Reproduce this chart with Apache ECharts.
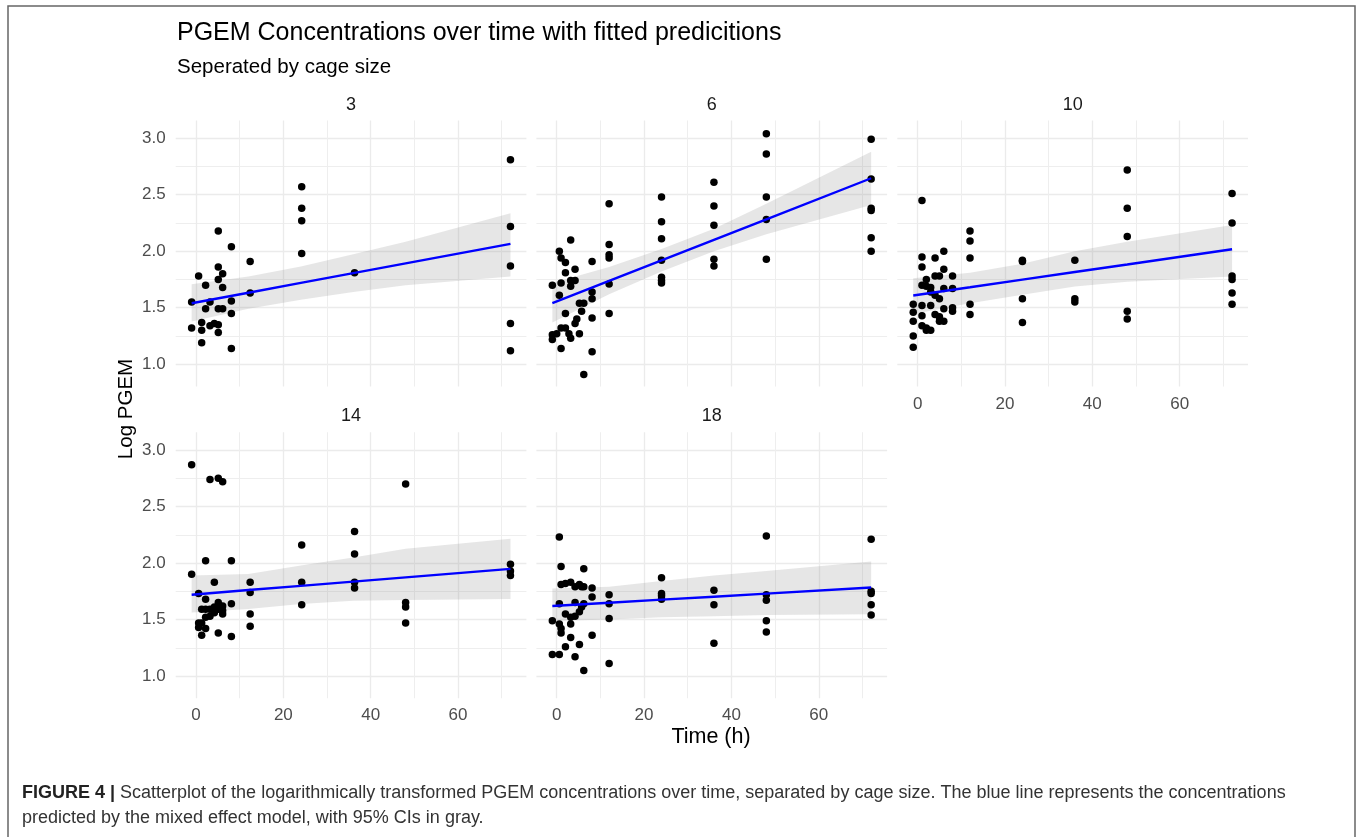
<!DOCTYPE html>
<html><head><meta charset="utf-8">
<script src="https://cdn.jsdelivr.net/npm/echarts@6/dist/echarts.min.js"></script>
<style>html,body{margin:0;padding:0;background:#fff}#c{width:1357px;height:837px}</style>
</head><body><div id="c"></div>
<script>
// ---------- data ----------
const panelNames = ['3', '6', '10', '14', '18'];
const xTickLabels = [0, 20, 40, 60];
const yTickLabels = [1.0, 1.5, 2.0, 2.5, 3.0];

const t3 = [-1, -1, 0.6, 1.3, 1.3, 1.3, 2.2, 2.2, 3.2, 3.2, 4.2, 5.1, 5.1, 5.1, 5.1, 5.1, 5.1, 6.1, 6.1, 6.1, 8.1, 8.1, 8.1, 8.1, 12.4, 12.4, 24.2, 24.2, 24.2, 24.2, 36.3, 72, 72, 72, 72, 72];
const v3 = [1.55, 1.32, 1.78, 1.37, 1.30, 1.19, 1.70, 1.49, 1.55, 1.34, 1.36, 2.18, 1.86, 1.75, 1.49, 1.35, 1.28, 1.80, 1.68, 1.49, 2.04, 1.56, 1.45, 1.14, 1.91, 1.63, 2.57, 2.38, 2.27, 1.98, 1.81, 2.81, 2.22, 1.87, 1.36, 1.12];

const t6 = [-1, -1, -1, 0.6, 1, 2, 1, 0.6, 2, 3.2, 4.2, 3.2, 4.2, 3.2, 2, 5.2, 6.2, 5.7, 4.6, 4.2, 5.2, 1, 2, 0, 2.8, 3.2, 1, 6.2, 8.1, 8.1, 8.1, 8.1, 8.1, 12, 12, 12, 12, 12, 12, 24, 24, 24, 24, 24, 24, 24, 36, 36, 36, 36, 36, 48, 48, 48, 48, 48, 72, 72, 72, 72, 72, 72];
const v6 = [1.70, 1.26, 1.22, 2.00, 1.94, 1.90, 1.72, 1.61, 1.81, 2.10, 1.84, 1.74, 1.74, 1.69, 1.45, 1.54, 1.54, 1.47, 1.40, 1.36, 1.27, 1.32, 1.32, 1.27, 1.27, 1.23, 1.14, 0.91, 1.91, 1.64, 1.58, 1.41, 1.11, 2.42, 2.06, 1.97, 1.94, 1.71, 1.45, 2.48, 2.26, 2.11, 1.92, 1.77, 1.74, 1.72, 2.61, 2.40, 2.23, 1.93, 1.87, 3.04, 2.86, 2.48, 2.28, 1.93, 2.99, 2.64, 2.38, 2.36, 2.12, 2.00];

const t10 = [1, 48, 48, 48, 48, 48, 72, 72, 72, 72, 72, 72, 36, 36, 36, 24, 24, 24, 24, 12, 12, 12, 12, 12, 8, 8, 8, 8, 6, 6, 6, 6, 6, 5, 5, 5, 5, 4, 4, 4, 4, 3, 3, 3, 3, 2, 2, 2, 2, 1, 1, 1, 1, 1, 1, -1, -1, -1, -1, -1];
const v10 = [2.45, 2.72, 2.38, 2.13, 1.47, 1.40, 2.51, 2.25, 1.78, 1.75, 1.63, 1.53, 1.92, 1.58, 1.55, 1.92, 1.91, 1.58, 1.37, 2.18, 2.09, 1.94, 1.53, 1.44, 1.78, 1.67, 1.50, 1.47, 2.00, 1.84, 1.67, 1.49, 1.38, 1.78, 1.58, 1.42, 1.38, 1.94, 1.78, 1.61, 1.44, 1.68, 1.64, 1.52, 1.30, 1.75, 1.69, 1.32, 1.30, 1.95, 1.86, 1.70, 1.52, 1.43, 1.34, 1.53, 1.46, 1.38, 1.25, 1.15];

const t14 = [-1, -1, 3.2, 5.1, 6.1, 2.2, 8.1, 4.2, 0.6, 2.2, 1.3, 2.2, 3.2, 4.2, 5.1, 6.1, 5.1, 6.1, 4.2, 3.2, 6.1, 2.2, 0.6, 1.3, 0.6, 2.2, 1.3, 5.1, 8.1, 8.1, 12.4, 12.4, 12.4, 12.4, 24.2, 24.2, 24.2, 36.3, 36.3, 36.3, 36.3, 48, 48, 48, 48, 72, 72, 72];
const v14 = [2.87, 1.90, 2.74, 2.75, 2.72, 2.02, 2.02, 1.83, 1.73, 1.68, 1.59, 1.59, 1.59, 1.61, 1.65, 1.62, 1.59, 1.58, 1.56, 1.53, 1.55, 1.52, 1.47, 1.47, 1.43, 1.42, 1.36, 1.38, 1.35, 1.64, 1.83, 1.74, 1.55, 1.44, 2.16, 1.83, 1.63, 2.28, 2.08, 1.83, 1.78, 2.70, 1.65, 1.61, 1.47, 1.99, 1.93, 1.89];

const t18 = [0.6, 48, 72, 1, 6.2, 24, 24, 24, 24, 1, 2, 3.2, 4.2, 5.2, 5.7, 6.2, 8.1, 8.1, 12, 12, 12, 12, 36, 36, 36, 48, 48, 48, 48, 72, 72, 72, 72, 0.6, 4.2, 6.2, 5.7, 5.2, 4.2, 2, 3.2, 3.2, -1, -1, 0.6, 0.6, 1, 1, 8.1, 3.2, 5.2, 2, 4.2, 6.2];
const v18 = [2.23, 2.24, 2.21, 1.97, 1.95, 1.87, 1.73, 1.71, 1.68, 1.81, 1.82, 1.83, 1.79, 1.81, 1.79, 1.79, 1.78, 1.70, 1.72, 1.64, 1.51, 1.11, 1.76, 1.63, 1.29, 1.72, 1.67, 1.49, 1.39, 1.75, 1.73, 1.63, 1.54, 1.64, 1.65, 1.64, 1.61, 1.57, 1.53, 1.55, 1.52, 1.46, 1.49, 1.19, 1.19, 1.46, 1.42, 1.38, 1.36, 1.34, 1.28, 1.26, 1.17, 1.05];

// fitted predictions and 95% CI, read at these times
const fitT = [-1, 12, 24, 36, 48, 72];
const fit3 = [1.54, 1.633, 1.72, 1.806, 1.892, 2.065];
const lo3  = [1.378, 1.49, 1.57, 1.64, 1.70, 1.776];
const hi3  = [1.708, 1.776, 1.864, 1.973, 2.085, 2.336];
const fit6 = [1.54, 1.737, 1.919, 2.101, 2.283, 2.646];
const lo6  = [1.37, 1.62, 1.82, 2.00, 2.15, 2.41];
const hi6  = [1.72, 1.86, 2.02, 2.20, 2.42, 2.88];
const fit10 = [1.608, 1.681, 1.749, 1.816, 1.883, 2.018];
const lo10  = [1.445, 1.54, 1.614, 1.687, 1.73, 1.776];
const hi10  = [1.76, 1.81, 1.89, 2.00, 2.085, 2.233];
const fit14 = [1.72, 1.761, 1.798, 1.836, 1.873, 1.948];
const lo14  = [1.563, 1.593, 1.637, 1.667, 1.673, 1.681];
const hi14  = [1.889, 1.904, 1.978, 2.05, 2.126, 2.215];
const fit18 = [1.62, 1.649, 1.676, 1.702, 1.729, 1.783];
const lo18  = [1.487, 1.50, 1.52, 1.53, 1.54, 1.547];
const hi18  = [1.774, 1.79, 1.84, 1.89, 1.93, 2.013];

// ---------- build ----------
const pts = [[t3, v3], [t6, v6], [t10, v10], [t14, v14], [t18, v18]];
const fits = [[fit3, lo3, hi3], [fit6, lo6, hi6], [fit10, lo10, hi10], [fit14, lo14, hi14], [fit18, lo18, hi18]];

const FONT = '"Liberation Sans", Arial, sans-serif';
const colLeft = [175.7, 536.4, 897.3];
const rowTop = [120.5, 432.3];
const PW = 350.7, PH = 266;
const pos = [[0, 0], [1, 0], [2, 0], [0, 1], [1, 1]];

const grids = [], xAxes = [], yAxes = [], series = [], graphics = [];
const gridLine = {color: '#EBEBEB', width: 1.3};
const minorLine = {color: '#EEEEEE', width: 1.1};

pos.forEach(([c, r], i) => {
  grids.push({left: colLeft[c], top: rowTop[r], width: PW, height: PH, containLabel: false});
  xAxes.push({
    type: 'value', gridIndex: i, min: -4.65, max: 75.65,
    splitNumber: 4, minInterval: 20, maxInterval: 20,
    axisLine: {show: false}, axisTick: {show: false},
    axisLabel: {show: (i >= 2), color: '#4D4D4D', fontSize: 17, fontFamily: FONT, margin: 9,
      showMinLabel: false, showMaxLabel: false,
      formatter: v => (xTickLabels.indexOf(Math.round(v * 1000) / 1000) >= 0 ? String(v) : '')},
    splitLine: {show: true, showMinLine: false, showMaxLine: false, lineStyle: gridLine},
    minorTick: {show: false, splitNumber: 2},
    minorSplitLine: {show: true, lineStyle: minorLine}
  });
  yAxes.push({
    type: 'value', gridIndex: i, min: 0.803, max: 3.157,
    splitNumber: 5, minInterval: 0.5, maxInterval: 0.5,
    axisLine: {show: false}, axisTick: {show: false},
    axisLabel: {show: (c === 0), color: '#4D4D4D', fontSize: 17, fontFamily: FONT, margin: 10,
      showMinLabel: false, showMaxLabel: false,
      formatter: v => {
        const k = yTickLabels.findIndex(t => Math.abs(t - v) < 1e-6);
        return k >= 0 ? yTickLabels[k].toFixed(1) : '';
      }},
    splitLine: {show: true, showMinLine: false, showMaxLine: false, lineStyle: gridLine},
    minorTick: {show: false, splitNumber: 2},
    minorSplitLine: {show: true, lineStyle: minorLine}
  });

  const [fit, lo, hi] = fits[i];
  series.push({
    type: 'custom', xAxisIndex: i, yAxisIndex: i, silent: true, z: 1,
    data: [[fitT[0], fit[0]]],
    renderItem: (params, api) => {
      const poly = [];
      for (let k = 0; k < fitT.length; k++) poly.push(api.coord([fitT[k], hi[k]]));
      for (let k = fitT.length - 1; k >= 0; k--) poly.push(api.coord([fitT[k], lo[k]]));
      return {type: 'polygon', shape: {points: poly}, style: {fill: 'rgba(128,128,128,0.2)'}};
    }
  });
  series.push({
    type: 'scatter', xAxisIndex: i, yAxisIndex: i, z: 3, silent: true,
    symbolSize: 7.5, itemStyle: {color: '#000', opacity: 1},
    data: pts[i][0].map((t, k) => [t, pts[i][1][k]])
  });
  series.push({
    type: 'line', xAxisIndex: i, yAxisIndex: i, z: 4, silent: true,
    showSymbol: false, symbol: 'none',
    lineStyle: {color: '#0000FF', width: 2.4},
    data: fitT.map((t, k) => [t, fit[k]])
  });

  graphics.push({type: 'text', style: {
    text: panelNames[i], x: colLeft[c] + PW / 2, y: r === 0 ? 105.5 : 416,
    align: 'center', verticalAlign: 'middle', fontSize: 18, fontFamily: FONT, fill: '#1A1A1A'}});
});

// frame
graphics.unshift({type: 'rect', shape: {x: 8, y: 6, width: 1347, height: 900},
  style: {fill: 'none', stroke: '#666', lineWidth: 1.5}, z: -1});
graphics.push(
  {type: 'text', style: {text: 'PGEM Concentrations over time with fitted predicitions', x: 177, y: 33.5,
    align: 'left', verticalAlign: 'middle', fontSize: 25, fontFamily: FONT, fill: '#000'}},
  {type: 'text', style: {text: 'Seperated by cage size', x: 177, y: 67,
    align: 'left', verticalAlign: 'middle', fontSize: 20.5, fontFamily: FONT, fill: '#000'}},
  {type: 'text', style: {text: 'Time (h)', x: 711, y: 737,
    align: 'center', verticalAlign: 'middle', fontSize: 21.5, fontFamily: FONT, fill: '#000'}},
  {type: 'text', x: 126, y: 409, rotation: Math.PI / 2, style: {text: 'Log PGEM', x: 0, y: 0,
    align: 'center', verticalAlign: 'middle', fontSize: 20.5, fontFamily: FONT, fill: '#000'}},
  {type: 'text', style: {
    text: '{b|FIGURE 4 |} Scatterplot of the logarithmically transformed PGEM concentrations over time, separated by cage size. The blue line represents the concentrations',
    x: 22, y: 793, align: 'left', verticalAlign: 'middle', fontSize: 18, fontFamily: FONT, fill: '#333',
    rich: {b: {fontWeight: 'bold', fontSize: 18, fontFamily: FONT, fill: '#222'}}}},
  {type: 'text', style: {
    text: 'predicted by the mixed effect model, with 95% CIs in gray.',
    x: 22, y: 818, align: 'left', verticalAlign: 'middle', fontSize: 18, fontFamily: FONT, fill: '#333'}}
);

const chart = echarts.init(document.getElementById('c'), null, {renderer: 'canvas'});
chart.setOption({
  animation: false, backgroundColor: '#fff',
  grid: grids, xAxis: xAxes, yAxis: yAxes, series: series, graphic: graphics
});
</script></body></html>
